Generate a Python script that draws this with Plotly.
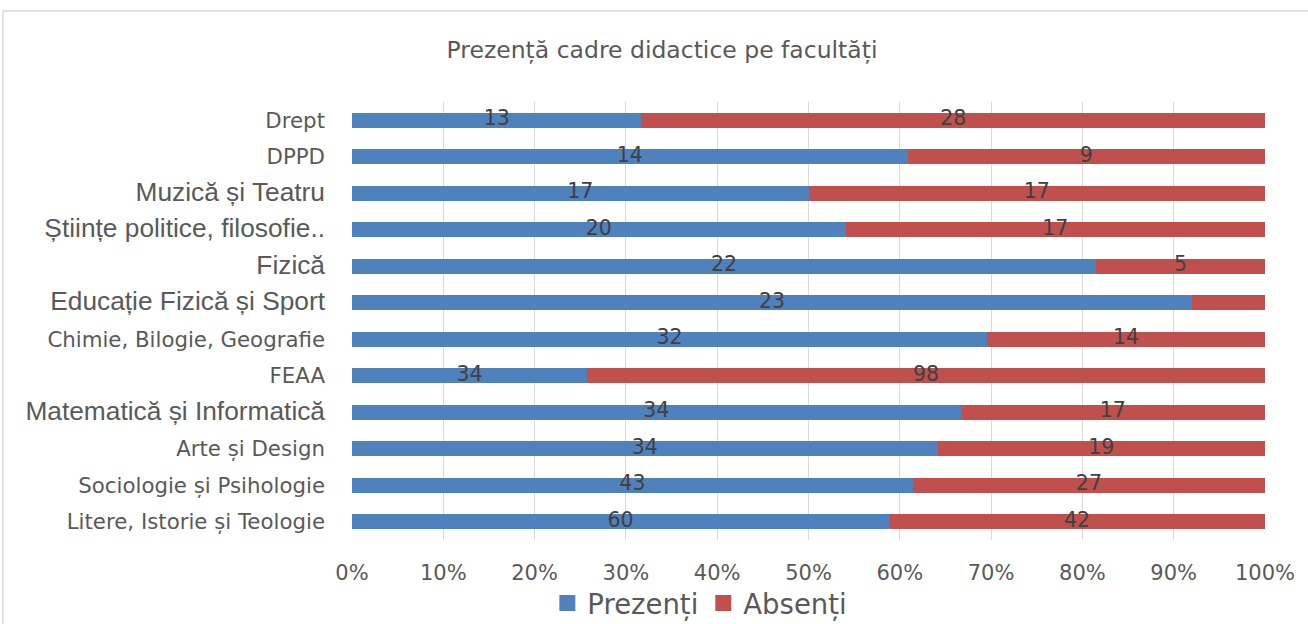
import plotly.graph_objects as go

categories = ["Litere, Istorie și Teologie", "Sociologie și Psihologie", "Arte și Design",
              "Matematică și Informatică", "FEAA", "Chimie, Bilogie, Geografie",
              "Educație Fizică și Sport", "Fizică", "Științe politice, filosofie..",
              "Muzică și Teatru", "DPPD", "Drept"]
prezenti = [60, 43, 34, 34, 34, 32, 23, 22, 20, 17, 14, 13]
absenti = [42, 27, 19, 17, 98, 14, 2, 5, 17, 17, 9, 28]
# labels typeset in the Arial-like font in the original
arial_labels = {"Matematică și Informatică", "Educație Fizică și Sport", "Fizică",
                "Științe politice, filosofie..", "Muzică și Teatru"}
ticks_pct = [0, 10, 20, 30, 40, 50, 60, 70, 80, 90, 100]

BLUE = "#4F81BD"
RED = "#C0504D"
TXT = "#404040"
GRAY = "#595959"
MAIN_FONT = "DejaVu Sans"
ARIAL = "Liberation Sans, Arial"

fig = go.Figure()
fig.add_trace(go.Bar(y=categories, x=prezenti, orientation="h", name="Prezenți",
                     marker=dict(color=BLUE, line=dict(width=0)), textposition="none",
                     showlegend=False))
fig.add_trace(go.Bar(y=categories, x=absenti, orientation="h", name="Absenți",
                     marker=dict(color=RED, line=dict(width=0)), textposition="none",
                     showlegend=False))

# data labels at segment midpoints (percent scale)
totals = [p + a for p, a in zip(prezenti, absenti)]
px_mid = [p / t * 100 / 2 for p, t in zip(prezenti, totals)]
ab_mid = [p / t * 100 + a / t * 100 / 2 for p, a, t in zip(prezenti, absenti, totals)]
ab_txt = [str(a) if a / t > 0.1 else "" for a, t in zip(absenti, totals)]
lab_font = dict(family=MAIN_FONT, size=20.5, color=TXT)
fig.add_trace(go.Scatter(y=categories, x=px_mid, mode="text", text=[str(v) for v in prezenti],
                         textfont=lab_font, textposition="middle center", showlegend=False,
                         hoverinfo="skip"))
fig.add_trace(go.Scatter(y=categories, x=ab_mid, mode="text", text=ab_txt,
                         textfont=lab_font, textposition="middle center", showlegend=False,
                         hoverinfo="skip"))

# legend entries (square swatches)
for name, col in [("Prezenți", BLUE), ("Absenți", RED)]:
    fig.add_trace(go.Scatter(x=[None], y=[None], mode="markers", name=name,
                             marker=dict(symbol="square", size=17, color=col),
                             showlegend=True, hoverinfo="skip"))

ticktext = []
for c in categories:
    if c in arial_labels:
        ticktext.append(f'<span style="font-family:{ARIAL};font-size:26.3px">{c}</span>')
    else:
        ticktext.append(c)

fig.update_layout(
    barmode="stack",
    barnorm="percent",
    bargap=0.6,
    width=1308, height=624,
    margin=dict(l=352, r=43, t=102, b=84, autoexpand=False),
    paper_bgcolor="white", plot_bgcolor="white",
    font=dict(family=MAIN_FONT, color=GRAY, size=21),
    title=dict(text="Prezență cadre didactice pe facultăți", x=662 / 1308, xanchor="center",
               y=1 - 50 / 624, yanchor="middle",
               font=dict(family=MAIN_FONT, size=23.5, color=GRAY)),
    xaxis=dict(range=[0, 100], tickvals=ticks_pct, ticktext=[f"{t}%" for t in ticks_pct],
               showgrid=True, gridcolor="#D9D9D9", gridwidth=1, zeroline=False,
               showline=False, ticks="", ticklabelstandoff=18, automargin=False,
               tickfont=dict(family=MAIN_FONT, size=21, color=GRAY), fixedrange=True),
    yaxis=dict(tickvals=categories, ticktext=ticktext, showgrid=False, zeroline=False,
               showline=False, ticks="", ticklabelstandoff=26, automargin=False,
               tickfont=dict(family=MAIN_FONT, size=21.3, color=GRAY),
               range=[-0.5, 11.5], fixedrange=True),
    legend=dict(orientation="h", x=0.381, xanchor="center", y=-0.144, yanchor="middle",
                font=dict(family=MAIN_FONT, size=27.5, color=GRAY), itemsizing="trace",
                traceorder="normal", itemwidth=30, tracegroupgap=0,
                bgcolor="rgba(0,0,0,0)"),
    showlegend=True,
    shapes=[dict(type="rect", xref="paper", yref="paper",
                 x0=(3 - 352) / 913, x1=(1330 - 352) / 913,
                 y0=-0.3, y1=(540 - 11) / 438,
                 line=dict(color="#D9D9D9", width=1.5), fillcolor="rgba(0,0,0,0)", layer="below")],
)

fig.write_html("out.html", config={"displayModeBar": False},
               post_script="document.body.style.margin='0';document.body.style.overflow='hidden';")
